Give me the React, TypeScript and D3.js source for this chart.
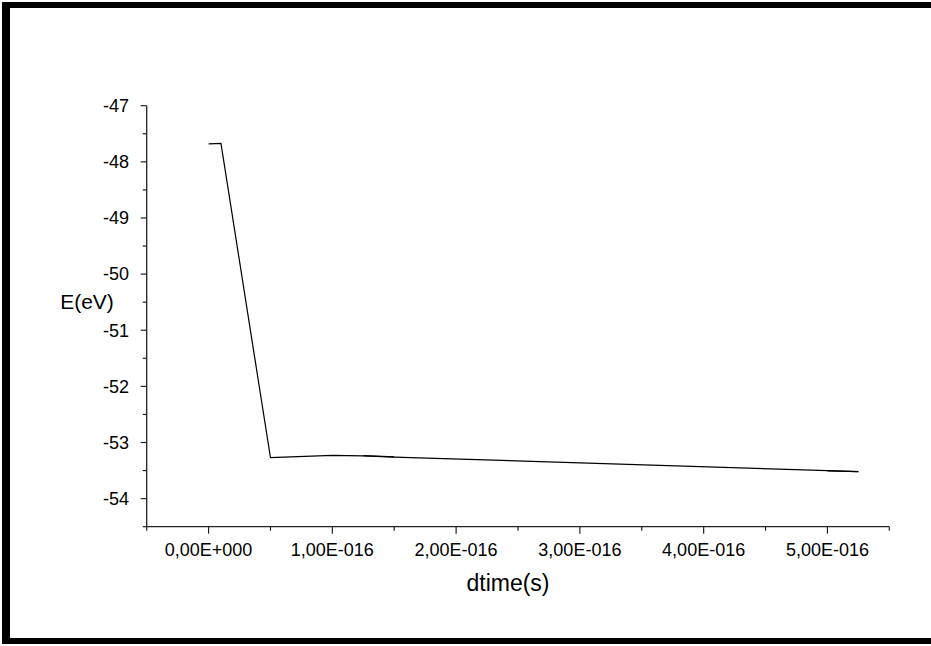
import React from "react";
import * as d3 from "d3";

const W = 931;
const H = 646;

// data
const timeValues = [0, 0.1e-16, 0.5e-16, 1.0e-16, 1.25e-16, 1.5e-16, 5.0e-16, 5.25e-16];
const energyValues = [-47.68, -47.67, -53.27, -53.23, -53.24, -53.26, -53.5, -53.52];
const overlayTimes = [1.25e-16, 1.5e-16, 5.0e-16, 5.25e-16];
const overlayEnergies = [-53.235, -53.255, -53.505, -53.52];
const xTickValues = [0, 1e-16, 2e-16, 3e-16, 4e-16, 5e-16];
const xTickLabels = ["0,00E+000", "1,00E-016", "2,00E-016", "3,00E-016", "4,00E-016", "5,00E-016"];
const yTickValues = [-47, -48, -49, -50, -51, -52, -53, -54];
const yTickLabels = ["-47", "-48", "-49", "-50", "-51", "-52", "-53", "-54"];
const xTitle = "dtime(s)";
const yTitle = "E(eV)";

const FONT = "'Liberation Sans', Arial, sans-serif";

export default function App() {
  const x = d3.scaleLinear().domain([-0.5e-16, 5.5e-16]).range([146.7, 889.3]);
  const y = d3.scaleLinear().domain([-54.5, -47]).range([526.7, 105.7]);

  const pts: [number, number][] = timeValues.map((t, i) => [t, energyValues[i]]);
  const line = d3
    .line<[number, number]>()
    .x((d) => x(d[0]))
    .y((d) => y(d[1]));

  const ov1: [number, number][] = [
    [overlayTimes[0], overlayEnergies[0]],
    [overlayTimes[1], overlayEnergies[1]],
  ];
  const ov2: [number, number][] = [
    [overlayTimes[2], overlayEnergies[2]],
    [overlayTimes[3], overlayEnergies[3]],
  ];

  const xMinor = d3.range(-0.5e-16, 5.5e-16 + 1e-30, 0.5e-16);
  const yMinor = d3.range(-54.5, -47 + 1e-9, 0.5);

  const x0 = x.range()[0];
  const yb = y.range()[0];
  const axisColor = "#222";

  return (
    <svg
      width={W}
      height={H}
      style={{ position: "absolute", left: 0, top: 0, display: "block", background: "#fff" }}
    >
      <rect x={0} y={0} width={W} height={H} fill="#fff" />
      {/* frame */}
      <rect x={2} y={2} width={W - 2} height={6} fill="#000" />
      <rect x={2} y={2} width={8} height={642} fill="#000" />
      <rect x={2} y={638} width={W - 2} height={6} fill="#000" />

      {/* y axis */}
      <line x1={x0} x2={x0} y1={y(-47)} y2={yb} stroke={axisColor} strokeWidth={1.3} />
      {yMinor.map((v, i) => {
        const major = Math.abs(v - Math.round(v)) < 1e-6;
        return (
          <line
            key={"ym" + i}
            x1={x0 - (major ? 6 : 4)}
            x2={x0}
            y1={y(v)}
            y2={y(v)}
            stroke={axisColor}
            strokeWidth={1.2}
          />
        );
      })}
      {yTickValues.map((v, i) => (
        <text
          key={"yl" + i}
          x={129}
          y={y(v)}
          dy="0.35em"
          textAnchor="end"
          fontFamily={FONT}
          fontSize={18}
          fill="#000"
        >
          {yTickLabels[i]}
        </text>
      ))}

      {/* x axis */}
      <line x1={x0} x2={x.range()[1]} y1={yb} y2={yb} stroke={axisColor} strokeWidth={1.3} />
      {xMinor.map((v, i) => {
        const major = Math.abs(v / 1e-16 - Math.round(v / 1e-16)) < 1e-6;
        return (
          <line
            key={"xm" + i}
            x1={x(v)}
            x2={x(v)}
            y1={yb}
            y2={yb + (major ? 7 : 4)}
            stroke={axisColor}
            strokeWidth={1.2}
          />
        );
      })}
      {xTickValues.map((v, i) => (
        <text
          key={"xl" + i}
          x={x(v)}
          y={556}
          textAnchor="middle"
          fontFamily={FONT}
          fontSize={18}
          fill="#000"
        >
          {xTickLabels[i]}
        </text>
      ))}

      {/* titles */}
      <text x={508} y={591} textAnchor="middle" fontFamily={FONT} fontSize={23} fill="#000">
        {xTitle}
      </text>
      <text x={87} y={309} textAnchor="middle" fontFamily={FONT} fontSize={21} fill="#000">
        {yTitle}
      </text>

      {/* data */}
      <path d={line(pts) || ""} fill="none" stroke="#000" strokeWidth={1.2} />
      <path d={line(ov1) || ""} fill="none" stroke="#000" strokeWidth={1.2} />
      <path d={line(ov2) || ""} fill="none" stroke="#000" strokeWidth={1.2} />
    </svg>
  );
}
